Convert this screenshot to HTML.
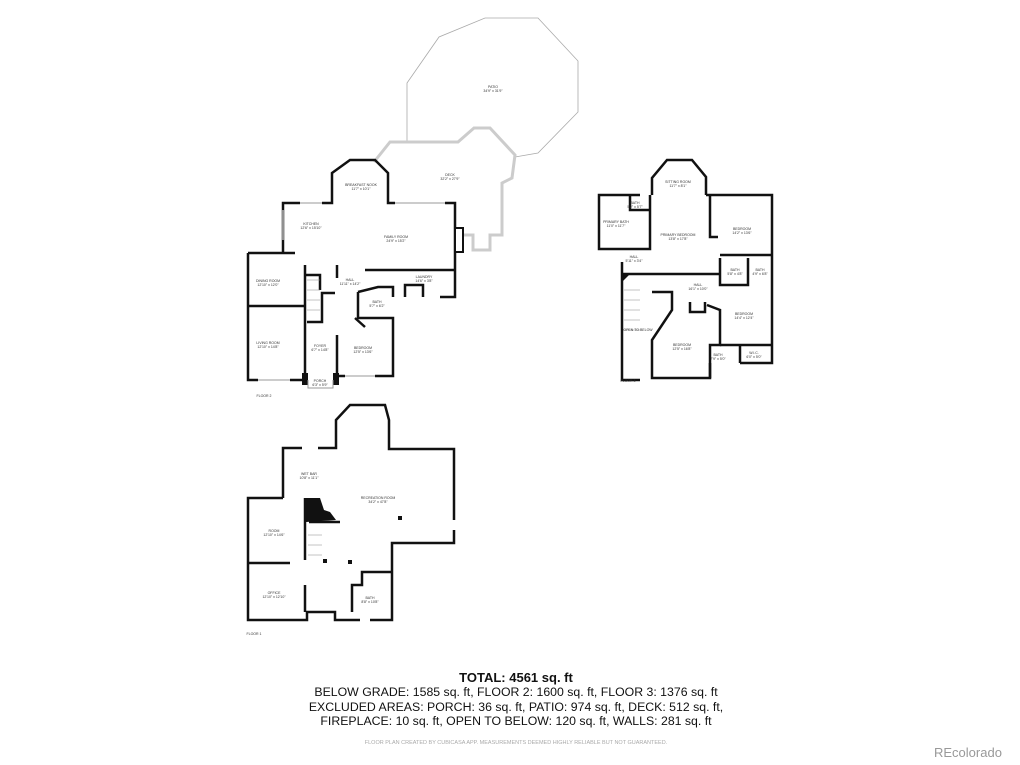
<!DOCTYPE html>
<html><head><style>
body{margin:0;background:#fff;width:1020px;height:765px;overflow:hidden;font-family:"Liberation Sans",sans-serif}
svg{position:absolute;left:0;top:0}
.t{position:absolute;left:0;width:1020px;text-align:center;color:#111}
</style></head><body>
<svg width="1020" height="765" viewBox="0 0 1020 765">
<g fill="none" stroke-linejoin="miter">
<!-- patio -->
<polyline points="407,142 407,83 439,37 485,18 538,18 578,61 578,112 538,153 515,157" stroke="#aaa" stroke-width="0.8"/>
<!-- deck -->
<polyline points="374,162 390,142 458,142 474,128 490,128 515,155 512,178 502,183 502,235 490,235 490,250 473,250 473,235 462,235" stroke="#ccc" stroke-width="3"/>
<!-- floor 2 walls -->
<g stroke="#111" stroke-width="2.5">
<polyline points="283,253 283,203 300,203"/>
<polyline points="322,203 332,203 332,173 350,160 375,160 388,173 388,203 395,203"/>
<polyline points="445,203 455,203 455,297 440,297"/>
<polyline points="365,270 455,270"/>
<polyline points="405,297 405,285 423,285 423,297"/>
<polyline points="248,253 295,253"/>
<polyline points="248,253 248,380 258,380"/>
<polyline points="290,380 305,380 305,265"/>
<polyline points="248,306 305,306"/>
<polyline points="305,275 320,275 320,290"/>
<polyline points="307,322 322,322 322,293 335,293"/>
<polyline points="337,265 337,278"/>
<polyline points="358,292 358,318 393,318 393,376 375,376"/>
<polyline points="358,292 378,287 393,287 393,297"/>
<polyline points="355,318 365,327"/>
<polyline points="337,335 337,376 345,376"/>
</g>
<rect x="302" y="373" width="6" height="12" fill="#111"/>
<rect x="333" y="373" width="6" height="12" fill="#111"/>
<rect x="455" y="228" width="8" height="24" fill="#fff" stroke="#111" stroke-width="2"/>
<polyline points="308,380 308,388 333,388 333,380" stroke="#999" stroke-width="1"/>
<g stroke="#bbb" stroke-width="1.5"><line x1="300" y1="203" x2="322" y2="203"/><line x1="395" y1="203" x2="445" y2="203"/><line x1="258" y1="380" x2="290" y2="380"/><line x1="345" y1="376" x2="375" y2="376"/><line x1="283" y1="210" x2="283" y2="240"/></g>
<g stroke="#888" stroke-width="0.5"><line x1="307" y1="280" x2="320" y2="280"/><line x1="307" y1="290" x2="320" y2="290"/><line x1="307" y1="300" x2="320" y2="300"/><line x1="307" y1="310" x2="320" y2="310"/></g>
<!-- floor 3 -->
<g stroke="#111" stroke-width="2.5">
<polyline points="652,195 652,178 667,160 692,160 706,177 706,195"/>
<polyline points="640,195 599,195 599,249 650,249 650,195"/>
<polyline points="630,195 630,210 650,210"/>
<polyline points="622,262 622,380 640,380"/>
<polyline points="706,195 772,195 772,363 740,363"/>
<polyline points="710,195 710,237 718,237"/>
<polyline points="622,274 720,274"/>
<polyline points="652,292 672,292 672,310 652,340 652,378 710,378 710,363"/>
<polyline points="720,255 772,255"/>
<polyline points="720,258 720,285 748,285 748,258"/>
<polyline points="707,305 720,310 720,345 710,345 710,378"/>
<polyline points="720,345 772,345"/>
<polyline points="740,345 740,363"/>
<polyline points="690,302 690,312 705,312 705,302"/>
</g>
<polygon points="622,274 630,274 622,282" fill="#111"/>
<g stroke="#888" stroke-width="0.5"><line x1="624" y1="290" x2="640" y2="290"/><line x1="624" y1="300" x2="640" y2="300"/><line x1="624" y1="310" x2="640" y2="310"/><line x1="624" y1="320" x2="640" y2="320"/><line x1="624" y1="330" x2="640" y2="330"/></g>
<!-- floor 1 -->
<g stroke="#111" stroke-width="2.5">
<polyline points="283,498 283,448 302,448"/>
<polyline points="318,448 336,448 336,420 350,405 385,405 389,420 389,449 454,449 454,520"/>
<polyline points="454,530 454,543 392,543 392,620 370,620"/>
<polyline points="360,620 335,620 335,612 307,612 307,620 248,620 248,498 283,498"/>
<polyline points="305,498 305,560"/>
<polyline points="248,563 290,563"/>
<polyline points="305,585 305,612"/>
<polyline points="352,612 352,585 362,585 362,572 392,572"/>
<polyline points="309,522 340,522"/>
</g>
<polygon points="306,498 320,498 324,510 330,512 336,520 306,522" fill="#111"/>
<rect x="398" y="516" width="4" height="4" fill="#111"/>
<rect x="323" y="559" width="4" height="4" fill="#111"/>
<rect x="348" y="560" width="4" height="4" fill="#111"/>
<g stroke="#888" stroke-width="0.5"><line x1="308" y1="535" x2="322" y2="535"/><line x1="308" y1="545" x2="322" y2="545"/><line x1="308" y1="555" x2="322" y2="555"/></g>
</g>
<g font-family="Liberation Sans" font-size="3.5" fill="#333" text-anchor="middle">
<text x="493" y="88">PATIO</text><text x="493" y="92">34'9" x 31'9"</text>
<text x="450" y="176">DECK</text><text x="450" y="180">32'2" x 27'9"</text>
<text x="361" y="186">BREAKFAST NOOK</text><text x="361" y="190">11'7" x 10'1"</text>
<text x="311" y="225">KITCHEN</text><text x="311" y="229">12'6" x 15'10"</text>
<text x="396" y="238">FAMILY ROOM</text><text x="396" y="242">24'9" x 15'2"</text>
<text x="350" y="281">HALL</text><text x="350" y="285">11'11" x 14'2"</text>
<text x="424" y="278">LAUNDRY</text><text x="424" y="282">14'6" x 3'8"</text>
<text x="268" y="282">DINING ROOM</text><text x="268" y="286">12'10" x 12'0"</text>
<text x="268" y="344">LIVING ROOM</text><text x="268" y="348">12'10" x 14'8"</text>
<text x="377" y="303">BATH</text><text x="377" y="307">5'7" x 6'2"</text>
<text x="320" y="347">FOYER</text><text x="320" y="351">6'7" x 14'8"</text>
<text x="363" y="349">BEDROOM</text><text x="363" y="353">12'5" x 13'6"</text>
<text x="320" y="382">PORCH</text><text x="320" y="386">6'3" x 5'9"</text>
<text x="264" y="397">FLOOR 2</text>
<text x="678" y="183">SITTING ROOM</text><text x="678" y="187">11'7" x 8'1"</text>
<text x="635" y="204">BATH</text><text x="635" y="208">5'2" x 5'7"</text>
<text x="616" y="223">PRIMARY BATH</text><text x="616" y="227">11'0" x 11'7"</text>
<text x="678" y="236">PRIMARY BEDROOM</text><text x="678" y="240">13'8" x 17'8"</text>
<text x="742" y="230">BEDROOM</text><text x="742" y="234">14'2" x 13'6"</text>
<text x="634" y="258">HALL</text><text x="634" y="262">5'11" x 3'4"</text>
<text x="735" y="271">BATH</text><text x="735" y="275">5'8" x 4'8"</text>
<text x="760" y="271">BATH</text><text x="760" y="275">4'9" x 6'8"</text>
<text x="698" y="286">HALL</text><text x="698" y="290">16'1" x 10'0"</text>
<text x="744" y="315">BEDROOM</text><text x="744" y="319">14'4" x 12'4"</text>
<text x="638" y="331">OPEN TO BELOW</text>
<text x="682" y="346">BEDROOM</text><text x="682" y="350">12'5" x 16'8"</text>
<text x="718" y="356">BATH</text><text x="718" y="360">7'9" x 5'0"</text>
<text x="754" y="354">W.I.C.</text><text x="754" y="358">6'0" x 5'0"</text>
<text x="628" y="382">FLOOR 3</text>
<text x="309" y="475">WET BAR</text><text x="309" y="479">10'8" x 11'1"</text>
<text x="378" y="499">RECREATION ROOM</text><text x="378" y="503">34'2" x 47'8"</text>
<text x="274" y="532">ROOM</text><text x="274" y="536">12'10" x 14'6"</text>
<text x="274" y="594">OFFICE</text><text x="274" y="598">12'10" x 12'10"</text>
<text x="370" y="599">BATH</text><text x="370" y="603">8'8" x 10'8"</text>
<text x="254" y="635">FLOOR 1</text>
</g>
</svg>
<div class="t" style="top:670px;font-size:13px;font-weight:bold;text-align:center;padding-left:6px">TOTAL: 4561 sq. ft</div>
<div class="t" style="top:685px;font-size:12.3px;line-height:14.5px;padding-left:6px">BELOW GRADE: 1585 sq. ft, FLOOR 2: 1600 sq. ft, FLOOR 3: 1376 sq. ft<br>EXCLUDED AREAS: PORCH: 36 sq. ft, PATIO: 974 sq. ft, DECK: 512 sq. ft,<br>FIREPLACE: 10 sq. ft, OPEN TO BELOW: 120 sq. ft, WALLS: 281 sq. ft</div>
<div class="t" style="top:740px;font-size:5.5px;color:#aaa;padding-left:6px">FLOOR PLAN CREATED BY CUBICASA APP. MEASUREMENTS DEEMED HIGHLY RELIABLE BUT NOT GUARANTEED.</div>
<div style="position:absolute;left:934px;top:745px;font-size:13px;color:#999">REcolorado</div>
</body></html>
